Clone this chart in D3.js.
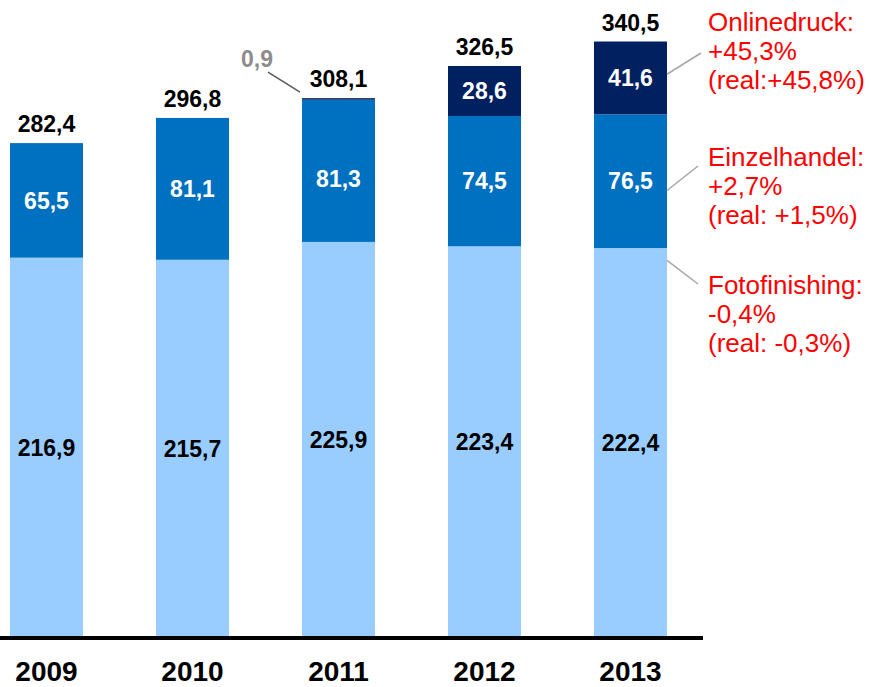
<!DOCTYPE html>
<html>
<head>
<meta charset="utf-8">
<script src="https://cdn.jsdelivr.net/npm/d3@7"></script>
<style>
  html, body { margin: 0; padding: 0; background: #fff; }
  svg { display: block; font-family: "Liberation Sans", Arial, Helvetica, sans-serif; }
</style>
</head>
<body>
<svg id="chart" width="871" height="687"></svg>
<script>
// Umsatz nach Segment, in Mio. EUR
const years = ["2009", "2010", "2011", "2012", "2013"];
const fotofinishing = [216.9, 215.7, 225.9, 223.4, 222.4];
const einzelhandel = [65.5, 81.1, 81.3, 74.5, 76.5];
const onlinedruck = [0, 0, 0.9, 28.6, 41.6];

const segmentKeys = ["fotofinishing", "einzelhandel", "onlinedruck"];
const segmentColors = ["#99CCFF", "#0070C0", "#002060"];
const labelColors = ["#000000", "#ffffff", "#ffffff"];

// Wachstum 2013 je Segment
const notesOnline = ["Onlinedruck:", "+45,3%", "(real:+45,8%)"];
const notesEinzel = ["Einzelhandel:", "+2,7%", "(real: +1,5%)"];
const notesFoto = ["Fotofinishing:", "-0,4%", "(real: -0,3%)"];

const rows = years.map((yr, i) => ({
  year: yr,
  fotofinishing: fotofinishing[i],
  einzelhandel: einzelhandel[i],
  onlinedruck: onlinedruck[i]
}));

const fmt = v => v.toFixed(1).replace(".", ",");

const svg = d3.select("#chart");

const x = d3.scaleBand()
  .domain(years)
  .range([-26.5, 703.5])
  .paddingInner(0.5)
  .paddingOuter(0.25);

const y = d3.scaleLinear()
  .domain([0, 340.5])
  .range([637, 41.5]);

const stack = d3.stack().keys(segmentKeys);
const series = stack(rows);

// Balkensegmente
const layers = svg.append("g")
  .selectAll("g")
  .data(series)
  .join("g")
  .attr("fill", (d, i) => segmentColors[i]);

layers.selectAll("rect")
  .data(d => d)
  .join("rect")
  .attr("x", d => x(d.data.year))
  .attr("width", x.bandwidth())
  .attr("y", d => y(d[1]))
  .attr("height", d => y(d[0]) - y(d[1]));

// Werte in den Segmenten (2011 Einzelhandel etwas tiefer gesetzt)
const nudge = (key, year) => (key === "einzelhandel" && year === "2011" ? 8 : 0);
series.forEach((s, si) => {
  svg.append("g")
    .selectAll("text")
    .data(s.filter(d => d[1] - d[0] >= 5))
    .join("text")
    .attr("x", d => x(d.data.year) + x.bandwidth() / 2)
    .attr("y", d => (y(d[0]) + y(d[1])) / 2 + nudge(s.key, d.data.year))
    .attr("dy", "0.36em")
    .attr("text-anchor", "middle")
    .attr("font-size", 23)
    .attr("font-weight", "bold")
    .attr("fill", labelColors[si])
    .text(d => fmt(d[1] - d[0]));
});

// Summen über den Balken
const topLayer = series[series.length - 1];
svg.append("g")
  .selectAll("text")
  .data(topLayer)
  .join("text")
  .attr("x", d => x(d.data.year) + x.bandwidth() / 2)
  .attr("y", d => y(d[1]) - 11)
  .attr("text-anchor", "middle")
  .attr("font-size", 23)
  .attr("font-weight", "bold")
  .attr("fill", "#000")
  .text(d => fmt(d[1]));

// Kleiner Onlinedruck-Anteil 2011 mit Hinweislinie
const small = topLayer.filter(d => d[1] - d[0] > 0 && d[1] - d[0] < 5);
small.forEach(d => {
  const bx = x(d.data.year);
  const by = y(d[1]);
  svg.append("line")
    .attr("x1", bx - 34).attr("y1", by - 26)
    .attr("x2", bx - 2).attr("y2", by - 6)
    .attr("stroke", "#595959")
    .attr("stroke-width", 1.5);
  svg.append("text")
    .attr("x", bx - 45)
    .attr("y", by - 31)
    .attr("text-anchor", "middle")
    .attr("font-size", 23)
    .attr("font-weight", "bold")
    .attr("fill", "#8c8c8c")
    .text(fmt(d[1] - d[0]));
});

// x-Achse
const axisG = svg.append("g").attr("transform", "translate(0,638)");
axisG.append("line")
  .attr("x1", 0).attr("x2", 703)
  .attr("stroke", "#000")
  .attr("stroke-width", 4);

svg.append("g")
  .selectAll("text")
  .data(years)
  .join("text")
  .attr("x", d => x(d) + x.bandwidth() / 2)
  .attr("y", 681)
  .attr("text-anchor", "middle")
  .attr("font-size", 28)
  .attr("font-weight", "bold")
  .attr("fill", "#000")
  .text(d => d);

// Wachstumshinweise rechts am letzten Balken
const last = years.length - 1;
const barRight = x(years[last]) + x.bandwidth();
const cumFoto = fotofinishing[last];
const cumEinzel = cumFoto + einzelhandel[last];

const notes = [
  { lines: notesOnline, baseline: 31, anchorValue: cumEinzel + onlinedruck[last] * 0.55, end: [701, 53] },
  { lines: notesEinzel, baseline: 166, anchorValue: cumFoto + einzelhandel[last] * 0.43, end: [698, 166] },
  { lines: notesFoto, baseline: 294, anchorValue: cumFoto - 7, end: [698, 284] }
];

notes.forEach(n => {
  svg.append("line")
    .attr("x1", barRight).attr("y1", y(n.anchorValue))
    .attr("x2", n.end[0]).attr("y2", n.end[1])
    .attr("stroke", "#a6a6a6")
    .attr("stroke-width", 1.5);
  const t = svg.append("text")
    .attr("x", 708)
    .attr("y", n.baseline)
    .attr("font-size", 26)
    .attr("fill", "#ff0000");
  n.lines.forEach((line, i) => {
    t.append("tspan")
      .attr("x", 708)
      .attr("y", n.baseline + i * 29)
      .text(line);
  });
});
</script>
</body>
</html>
